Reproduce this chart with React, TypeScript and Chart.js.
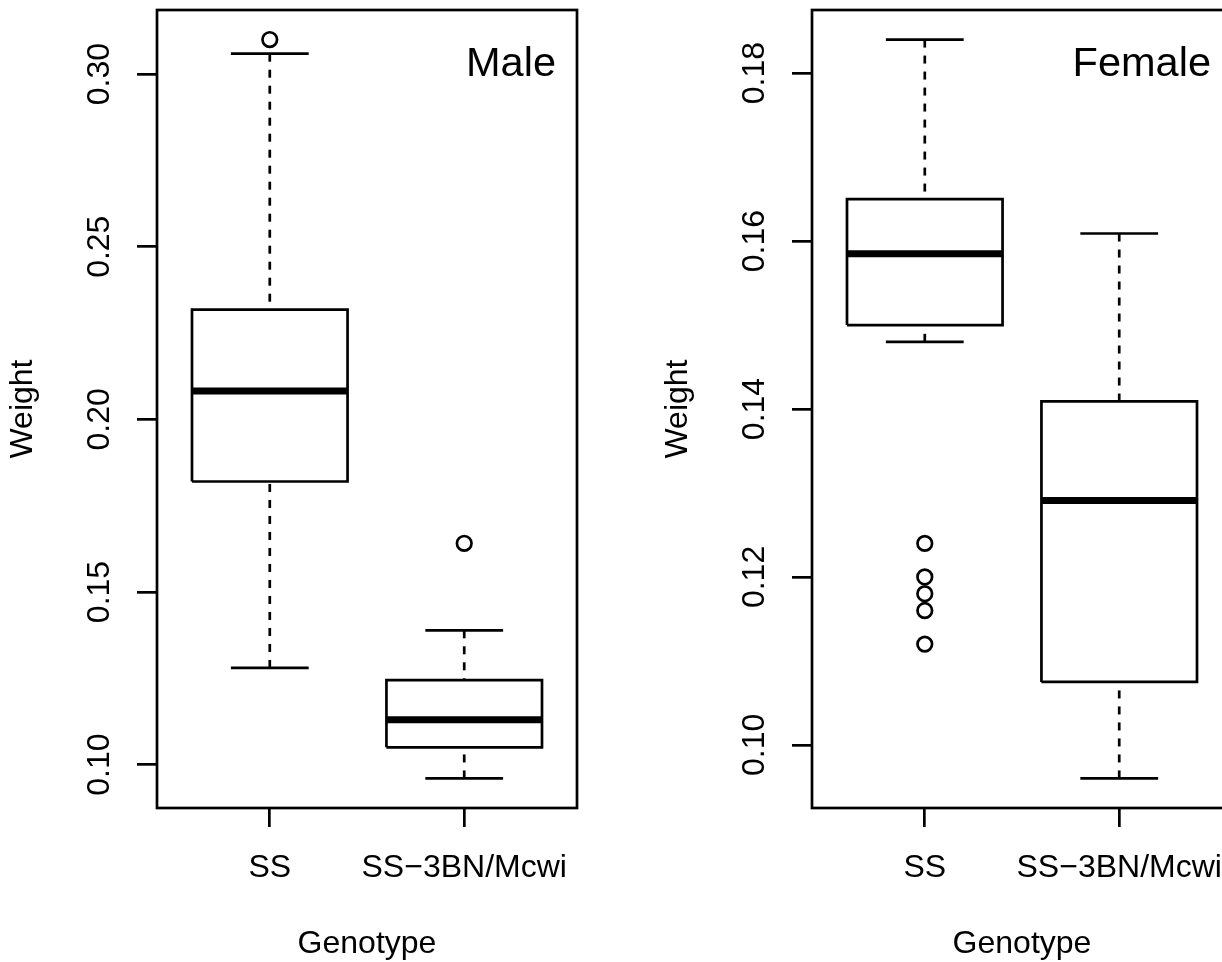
import React, { useEffect, useRef } from "react";
import { Chart, registerables } from "chart.js";

Chart.register(...registerables);

const FONT = '"Liberation Sans", Arial, Helvetica, sans-serif';

// ---- data ----
const categories = ["SS", "SS\u22123BN/Mcwi"];

const maleLow = [0.128, 0.096];
const maleQ1 = [0.182, 0.105];
const maleMedian = [0.2082, 0.113];
const maleQ3 = [0.2318, 0.1245];
const maleHigh = [0.3059, 0.1389];
const maleOutliers = [[0.31], [0.1641]];
const maleTicks = [0.1, 0.15, 0.2, 0.25, 0.3];

const femaleLow = [0.148, 0.096];
const femaleQ1 = [0.15, 0.1075];
const femaleMedian = [0.1585, 0.1291];
const femaleQ3 = [0.165, 0.1409];
const femaleHigh = [0.184, 0.1609];
const femaleOutliers = [[0.124, 0.12, 0.118, 0.116, 0.112], []];
const femaleTicks = [0.1, 0.12, 0.14, 0.16, 0.18];

// ---- style constants ----
const PANEL_W = 655;
const PANEL_H = 962;
const LW = 2.7;
const MED_LW = 7;
const FS = 32;
const BOX_HALF = 0.4;
const CAP_HALF = 0.2;

type PanelProps = {
  label: string;
  low: number[];
  q1: number[];
  med: number[];
  q3: number[];
  high: number[];
  outliers: number[][];
  ticks: number[];
  offset: number;
};

function lineDs(data: { x: number; y: number }[], width: number, dash: number[] = []) {
  return {
    data,
    showLine: true,
    borderColor: "#000",
    borderWidth: width,
    borderDash: dash,
    borderCapStyle: "butt",
    borderJoinStyle: "miter",
    pointRadius: 0,
    pointHoverRadius: 0,
    fill: false,
    tension: 0,
  };
}

function Panel(p: PanelProps) {
  const ref = useRef<HTMLCanvasElement | null>(null);
  useEffect(() => {
    if (!ref.current) return;
    const all = [...p.low, ...p.high, ...p.outliers.flat()];
    const yMin0 = Math.min(...all);
    const yMax0 = Math.max(...all);
    const yPad = 0.04 * (yMax0 - yMin0);
    const xLo0 = 0.5;
    const xHi0 = categories.length + 0.5;
    const xPad = 0.04 * (xHi0 - xLo0);

    const datasets: any[] = [];
    categories.forEach((_, i) => {
      const x = i + 1;
      // whiskers (dashed), drawn from the whisker end towards the box
      datasets.push(lineDs([{ x, y: p.high[i] }, { x, y: p.q3[i] }], LW, [8, 8]));
      datasets.push(lineDs([{ x, y: p.low[i] }, { x, y: p.q1[i] }], LW, [8, 8]));
      // staples
      datasets.push(lineDs([{ x: x - CAP_HALF, y: p.high[i] }, { x: x + CAP_HALF, y: p.high[i] }], LW));
      datasets.push(lineDs([{ x: x - CAP_HALF, y: p.low[i] }, { x: x + CAP_HALF, y: p.low[i] }], LW));
      // box
      datasets.push(
        lineDs(
          [
            { x: x - BOX_HALF, y: p.q1[i] },
            { x: x + BOX_HALF, y: p.q1[i] },
            { x: x + BOX_HALF, y: p.q3[i] },
            { x: x - BOX_HALF, y: p.q3[i] },
            { x: x - BOX_HALF, y: p.q1[i] },
          ],
          LW
        )
      );
      // median
      datasets.push(lineDs([{ x: x - BOX_HALF, y: p.med[i] }, { x: x + BOX_HALF, y: p.med[i] }], MED_LW));
      // outliers
      datasets.push({
        data: p.outliers[i].map((v) => ({ x, y: v })),
        showLine: false,
        pointStyle: "circle",
        pointRadius: 7.3,
        pointHoverRadius: 7.3,
        pointBorderWidth: LW,
        pointBorderColor: "#000",
        pointBackgroundColor: "rgba(0,0,0,0)",
        borderColor: "#000",
        backgroundColor: "rgba(0,0,0,0)",
      });
    });

    const label = p.label;
    const framePlugin = {
      id: "frameAndLabel",
      afterDraw(chart: any) {
        const { ctx, chartArea } = chart;
        const { left, top, right, bottom } = chartArea;
        ctx.save();
        ctx.strokeStyle = "#000";
        ctx.lineWidth = LW;
        ctx.strokeRect(left, top, right - left, bottom - top);
        ctx.font = `41.5px ${FONT}`;
        ctx.fillStyle = "#000";
        ctx.textAlign = "right";
        ctx.textBaseline = "alphabetic";
        ctx.fillText(label, right - 21, top + 66);
        ctx.restore();
      },
    };

    const chart = new Chart(ref.current, {
      type: "scatter",
      data: { datasets },
      options: {
        animation: false,
        responsive: false,
        maintainAspectRatio: false,
        events: [],
        layout: { padding: { left: 0, top: 8, right: 78, bottom: 0 } },
        plugins: {
          legend: { display: false },
          tooltip: { enabled: false },
        },
        scales: {
          x: {
            type: "linear",
            min: xLo0 - xPad,
            max: xHi0 + xPad,
            afterBuildTicks: (scale: any) => {
              scale.ticks = categories.map((_, i) => ({ value: i + 1 }));
            },
            afterFit: (scale: any) => {
              scale.height = 154;
              scale.paddingLeft = 0;
              scale.paddingRight = 0;
            },
            ticks: {
              autoSkip: false,
              minRotation: 0,
              maxRotation: 0,
              padding: 22.2,
              color: "#000",
              font: { family: FONT, size: FS },
              callback: (v: any) => categories[Math.round(Number(v)) - 1],
            },
            grid: {
              display: true,
              drawOnChartArea: false,
              drawTicks: true,
              tickLength: 19,
              color: "#000",
              lineWidth: LW,
            },
            border: { display: false },
            title: {
              display: true,
              text: "Genotype",
              color: "#000",
              font: { family: FONT, size: FS },
              padding: { top: 0, bottom: -1 },
            },
          },
          y: {
            type: "linear",
            min: yMin0 - yPad,
            max: yMax0 + yPad,
            afterBuildTicks: (scale: any) => {
              scale.ticks = p.ticks.map((v) => ({ value: v }));
            },
            afterFit: (scale: any) => {
              scale.width = 157;
              scale.paddingTop = 0;
              scale.paddingBottom = 0;
            },
            ticks: {
              autoSkip: false,
              minRotation: 90,
              maxRotation: 90,
              crossAlign: "center",
              padding: 5.3,
              color: "#000",
              font: { family: FONT, size: FS },
              callback: (v: any) => Number(v).toFixed(2),
            },
            grid: {
              display: true,
              drawOnChartArea: false,
              drawTicks: true,
              tickLength: 20,
              color: "#000",
              lineWidth: LW,
            },
            border: { display: false },
            title: {
              display: true,
              text: "Weight",
              color: "#000",
              font: { family: FONT, size: FS },
              padding: { top: 4, bottom: 0 },
            },
          },
        },
      } as any,
      plugins: [framePlugin],
    });
    return () => chart.destroy();
  }, []);

  return (
    <canvas
      ref={ref}
      width={PANEL_W}
      height={PANEL_H}
      style={{ position: "absolute", left: p.offset, top: 0, width: PANEL_W, height: PANEL_H }}
    />
  );
}

export default function App() {
  return (
    <div
      style={{
        position: "absolute",
        left: 0,
        top: 0,
        width: 1222,
        height: 962,
        overflow: "hidden",
        background: "#fff",
      }}
    >
      <Panel
        label="Male"
        low={maleLow}
        q1={maleQ1}
        med={maleMedian}
        q3={maleQ3}
        high={maleHigh}
        outliers={maleOutliers}
        ticks={maleTicks}
        offset={0}
      />
      <Panel
        label="Female"
        low={femaleLow}
        q1={femaleQ1}
        med={femaleMedian}
        q3={femaleQ3}
        high={femaleHigh}
        outliers={femaleOutliers}
        ticks={femaleTicks}
        offset={PANEL_W}
      />
    </div>
  );
}
